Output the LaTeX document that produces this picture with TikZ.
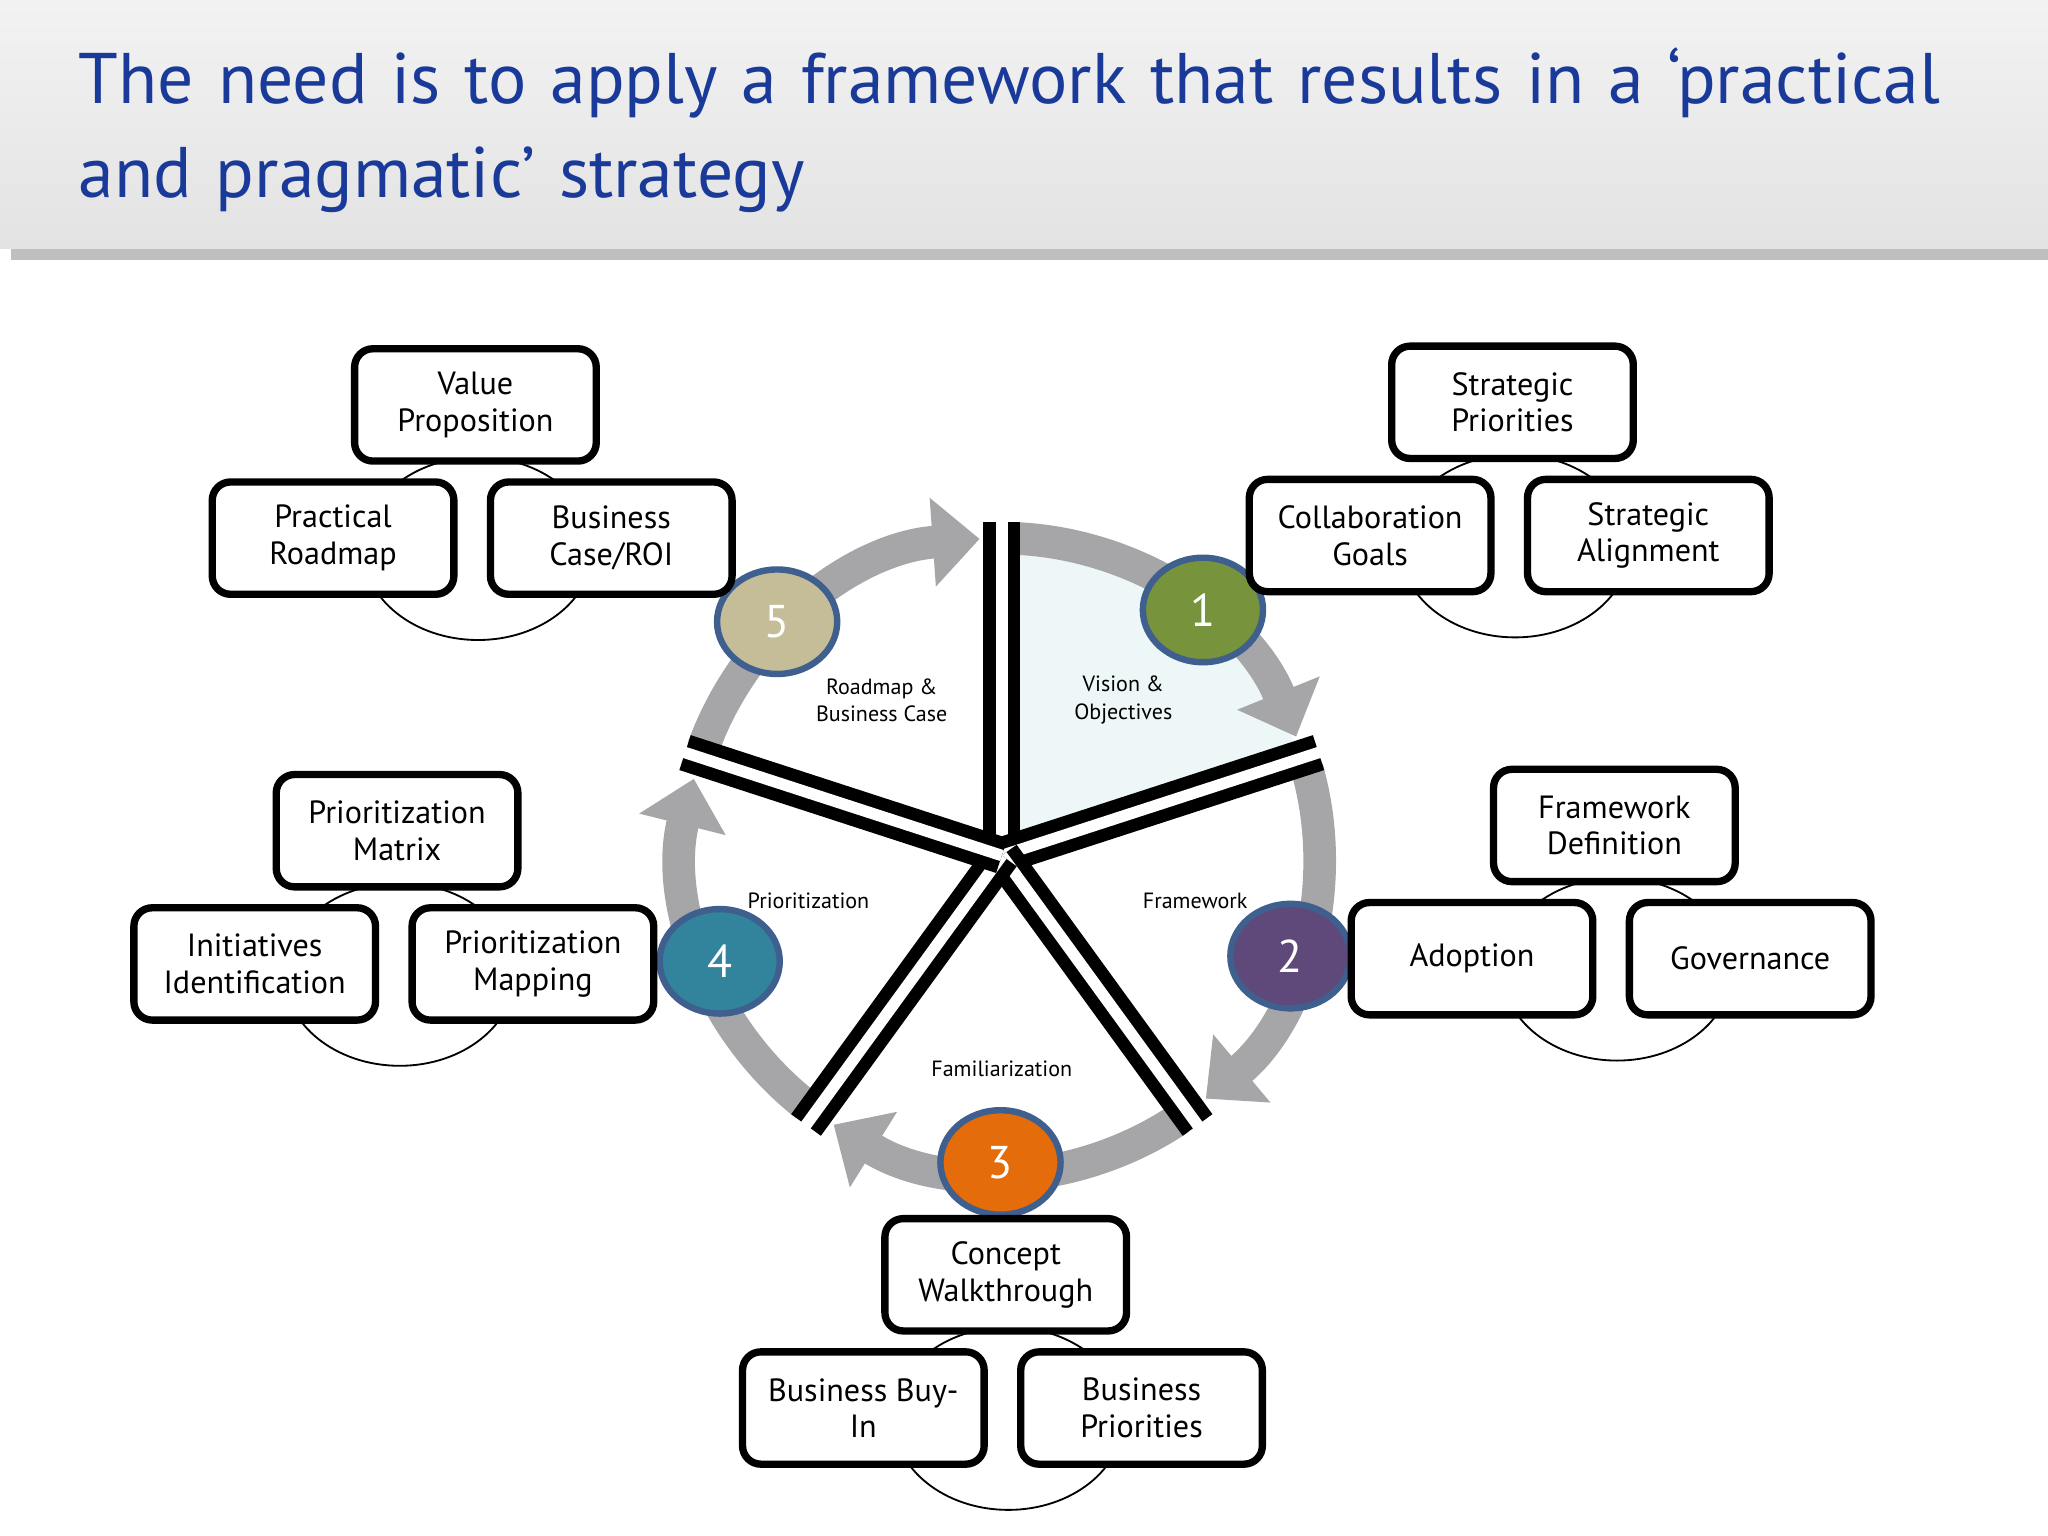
\documentclass[tikz,border=0pt]{standalone}
\usepackage{fontspec}
\setmainfont{PT Sans}
\usetikzlibrary{arrows.meta, shadows, calc, shapes.geometric}

\definecolor{titleblue}{HTML}{1A3A9A}
\definecolor{ringgrey}{HTML}{A6A6A8}
\definecolor{ringedge}{HTML}{3F5F8F}
\definecolor{sectorfill}{HTML}{EEF7F7}
\definecolor{stepone}{HTML}{77933C}
\definecolor{steptwo}{HTML}{5F497A}
\definecolor{stepthree}{HTML}{E46C0A}
\definecolor{stepfour}{HTML}{31849B}
\definecolor{stepfive}{HTML}{C4BD97}

\begin{document}
\begin{tikzpicture}[x=0.1mm, y=-0.1mm,
    % box style
    item/.style={draw, line width=1.6pt, rounded corners=4pt, fill=white,
      minimum width=18.5mm, minimum height=8.6mm, align=center, inner sep=1pt,
      font=\fontsize{7}{8}\selectfont},
    % numbered stage style
    stage/.style={draw=ringedge, line width=1.4pt, ellipse, minimum width=9.2mm,
      minimum height=8mm, inner sep=0pt, text=white, font=\fontsize{10}{12}\selectfont},
    % ring arrow style
    ring/.style={ringgrey, line width=2.5mm,
      -{Triangle[length=3.6mm, width=6.6mm]}},
    lab/.style={align=center, font=\fontsize{4.8}{6}\selectfont}
  ]
  \useasboundingbox (0,0) rectangle (1568,1176);

  % header band
  \shade[top color=white!90!gray, bottom color=white!78!gray, drop shadow]
    (0,0) rectangle (1568,190);
  \node[anchor=north west, text width=150mm, text=titleblue,
    font=\fontsize{15.6}{20.5}\selectfont] (title) at (48,24)
    {The need is to apply a framework that results in a ‘practical and pragmatic’ strategy};

  % wheel
  \coordinate (c) at (767,655);
  \fill[sectorfill] (c) -- ($(c)+(-90:240)$) arc[start angle=-90, end angle=-18, radius=240] -- cycle;
  \foreach \a in {88,16,-56,-128,160}
    \draw[ring] ($(c)+(-\a:243)$) arc[start angle=-\a, delta angle=66, radius=243];
  \foreach \a in {90,18,-54,-126,162} {
    \draw[line width=8] (c) -- ($(c)+(-\a:255)$);
    \draw[white, line width=2.5] (c) -- ($(c)+(-\a:258)$);
  }

  % stages
  \node[stage, fill=stepone] (s1) at (921,467) {1};
  \node[stage, fill=steptwo] (s2) at (988,732) {2};
  \node[stage, fill=stepthree] (s3) at (766,890) {3};
  \node[stage, fill=stepfour] (s4) at (551,736) {4};
  \node[stage, fill=stepfive] (s5) at (595,476) {5};

  \node[lab] (l1) at (860,536) {Vision \&\\Objectives};
  \node[lab] (l5) at (675,536) {Roadmap \&\\Business Case};
  \node[lab] (l2) at (915,690) {Framework};
  \node[lab] (l4) at (619,690) {Prioritization};
  \node[lab] (l3) at (767,818) {Familiarization};

  % box groups
  \foreach \n/\x/\y/\t/\l/\r in {
      g5/364/310/{Value\\Proposition}/{Practical\\Roadmap}/{Business\\Case/ROI},
      g1/1158/308/{Strategic\\Priorities}/{Collaboration\\Goals}/{Strategic\\Alignment},
      g4/304/636/{Prioritization\\Matrix}/{Initiatives\\Identification}/{Prioritization\\Mapping},
      g2/1236/632/{Framework\\Definition}/{Adoption}/{Governance},
      g3/770/976/{Concept\\Walkthrough}/{Business Buy-\\In}/{Business\\Priorities}} {
    \draw[thin] (\x+2,\y+110) ellipse[x radius=88, y radius=70];
    \node[item] (\n t) at (\x,\y) {\t};
    \node[item] (\n l) at (\x-109,\y+102) {\l};
    \node[item] (\n r) at (\x+104,\y+102) {\r};
  }
\end{tikzpicture}
\end{document}
